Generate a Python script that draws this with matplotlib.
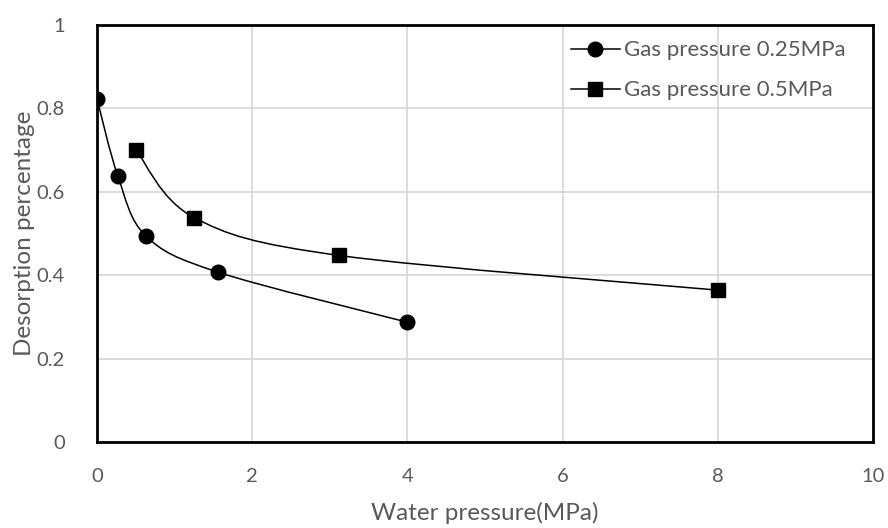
import matplotlib.pyplot as plt
import numpy as np
from matplotlib.path import Path
from matplotlib.patches import PathPatch
from matplotlib.lines import Line2D

# data
water_025 = [0.0, 0.27, 0.63, 1.56, 4.0]
desorp_025 = [0.823, 0.637, 0.494, 0.407, 0.287]
water_05 = [0.5, 1.25, 3.125, 8.0]
desorp_05 = [0.701, 0.538, 0.447, 0.364]
series_labels = ['Gas pressure 0.25MPa', 'Gas pressure 0.5MPa']

plt.rcParams['font.family'] = ['Lato', 'DejaVu Sans']
GRAY = '#595959'


def smooth_path(x, y):
    """Excel-like smoothed line: cubic Bezier segments through each point."""
    p = np.column_stack([x, y]).astype(float)
    ext = np.vstack([p[0], p, p[-1]])
    verts = [p[0]]
    codes = [Path.MOVETO]
    for i in range(len(p) - 1):
        p0, p1, p2, p3 = ext[i], ext[i + 1], ext[i + 2], ext[i + 3]
        c1 = p1 + (p2 - p0) / 6
        c2 = p2 - (p3 - p1) / 6
        verts += [c1, c2, p2]
        codes += [Path.CURVE4] * 3
    return Path(verts, codes)


fig = plt.figure(figsize=(8.88, 5.28), dpi=100)
ax = fig.add_axes([0.1092, 0.163, 0.8738, 0.790])

for x, y, m in [(water_025, desorp_025, 'o'), (water_05, desorp_05, 's')]:
    ax.add_patch(PathPatch(smooth_path(x, y), facecolor='none',
                           edgecolor='black', lw=1.1, zorder=3))
    ax.plot(x, y, linestyle='none', marker=m, color='black',
            markersize=10.5 if m == 'o' else 10, zorder=4)

ax.set_xlim(0, 10)
ax.set_ylim(0, 1)
ax.set_xticks(np.arange(0, 11, 2))
ax.set_yticks([0, 0.2, 0.4, 0.6, 0.8, 1.0])
ax.set_yticklabels(['0', '0.2', '0.4', '0.6', '0.8', '1'])
ax.grid(True, color='#d9d9d9', lw=1.3, zorder=0)
ax.set_axisbelow(True)
for s in ax.spines.values():
    s.set_linewidth(2)
    s.set_color('black')
ax.tick_params(length=0, labelsize=14.5, labelcolor=GRAY)
ax.tick_params(axis='x', pad=19)
ax.tick_params(axis='y', pad=23)

ax.set_xlabel('Water pressure(MPa)', fontsize=17.5, color=GRAY, labelpad=12)
ax.set_ylabel('Desorption percentage', fontsize=17.5, color=GRAY, labelpad=1)

handles = [Line2D([], [], color='black', lw=1.1, marker='o', markersize=10.5),
           Line2D([], [], color='black', lw=1.1, marker='s', markersize=10)]
ax.legend(handles, series_labels, loc='upper right', bbox_to_anchor=(0.985, 1.0),
          frameon=False, fontsize=16, labelcolor=GRAY, handlelength=2.2,
          handletextpad=0.2, labelspacing=0.9, borderaxespad=0.3)

fig.savefig('out.png', dpi=100)
